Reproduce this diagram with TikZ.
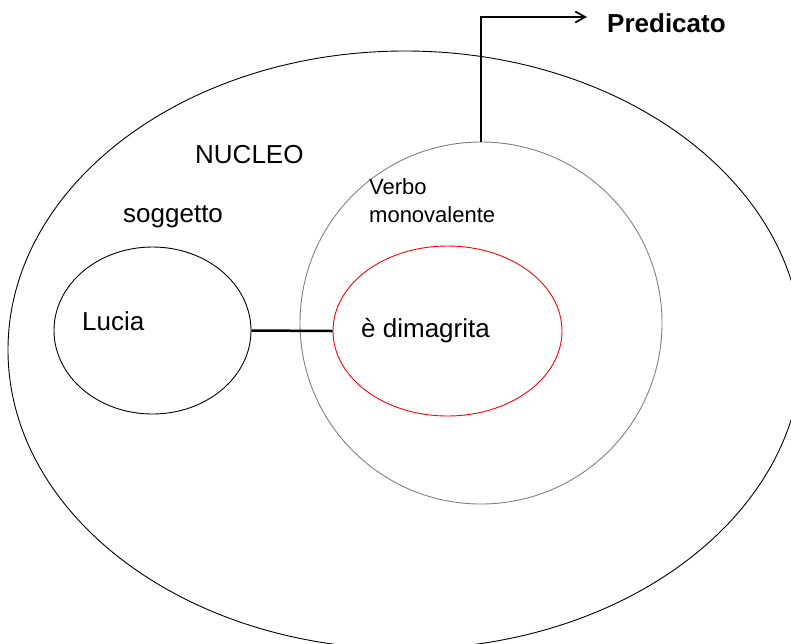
\documentclass[tikz,border=0pt]{standalone}
\usepackage{fontspec}
\setmainfont{Liberation Sans}
\usetikzlibrary{shapes.geometric,arrows.meta}

\begin{document}
\begin{tikzpicture}[x=1pt,y=-1pt,
	ring/.style={draw, ellipse, inner sep=0pt, line width=0.9pt},
	lbl/.style={anchor=base west, inner sep=0pt, font=\fontsize{26}{30}\selectfont}]
	\useasboundingbox (0,0) rectangle (791,643);
	\clip (0,0) rectangle (791,643);

	% the four rings
	\node[ring, minimum width=794pt, minimum height=598pt](nucleo) at (405,350) {};
	\node[ring, circle, draw=gray, minimum size=362pt](verbo) at (481,323) {};
	\node[ring, draw=red, minimum width=229pt, minimum height=170pt](dim) at (447.5,331) {};
	\node[ring, minimum width=197pt, minimum height=167pt](lucia) at (152.5,330.5) {};
	\coordinate(pred) at (587,17);

	\draw[line width=2.5pt](lucia.east) -- (dim.west);
	\draw[-{Straight Barb[length=10pt,width=11pt]}, line width=1.7pt](verbo.north) |- (pred);

	% labels
	\node[lbl, font=\bfseries\fontsize{26}{30}\selectfont](predt) at (607,32) {Predicato};
	\node[lbl](nucleot) at (195,163) {NUCLEO};
	\node[lbl](sogg) at (123,222) {soggetto};
	\node[lbl](luciat) at (82,330) {Lucia};
	\node[lbl, font=\fontsize{22}{28}\selectfont](verbot) at (369,194) {Verbo};
	\node[lbl, font=\fontsize{22}{28}\selectfont](monot) at (369,222) {monovalente};
	\node[lbl](dimt) at (361,337) {è dimagrita};
\end{tikzpicture}
\end{document}
